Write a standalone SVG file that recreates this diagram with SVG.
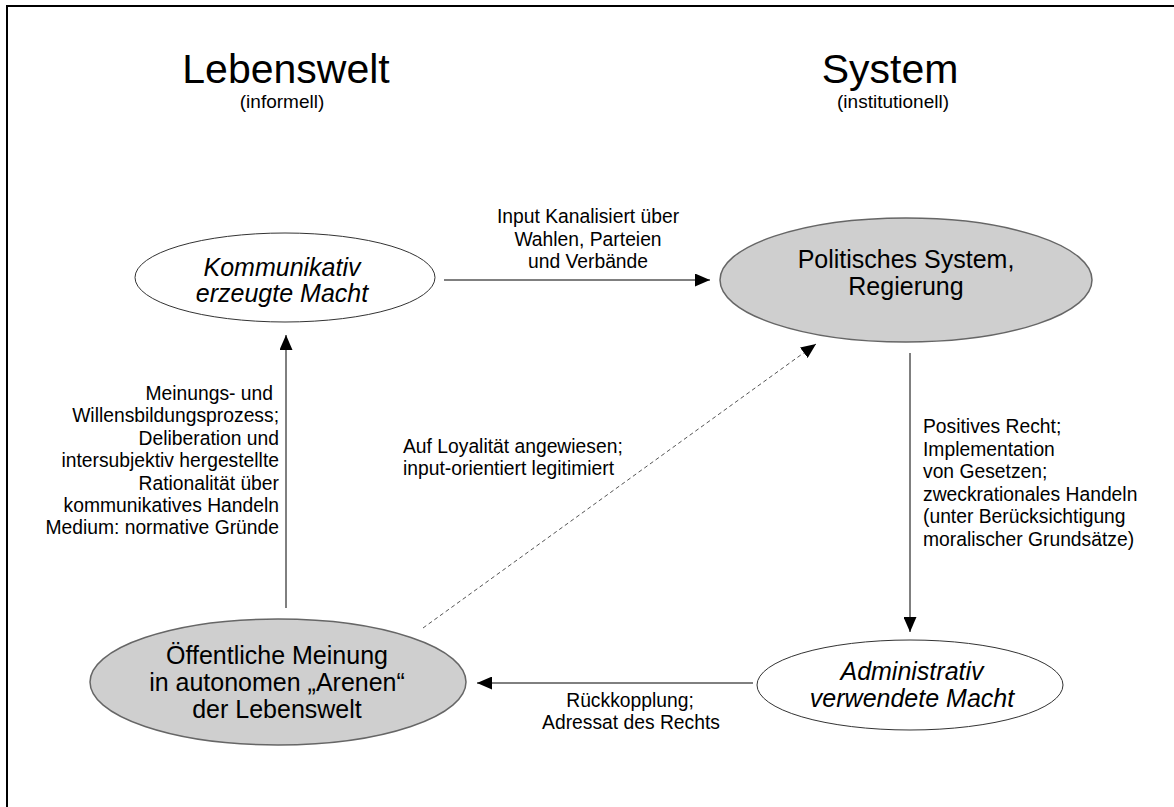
<svg xmlns="http://www.w3.org/2000/svg" width="1174" height="807" viewBox="0 0 1174 807">
<style>
text{font-family:"Liberation Sans",Arial,sans-serif;fill:#000}
.title{font-size:41px;text-anchor:middle}
.sub{font-size:19px;text-anchor:middle}
.lbl{font-size:19.3px}
.mid{text-anchor:middle}
.end{text-anchor:end}
.nt{font-size:25px;text-anchor:middle}
.it{font-style:italic}
.white{fill:#fff;stroke:#333;stroke-width:1}
.grey{fill:#cfcfcf;stroke:#666;stroke-width:1.5}
.conn{stroke:#000;stroke-width:1;fill:none}
.dash{stroke:#555;stroke-width:1;fill:none;stroke-dasharray:4 3}
</style>
<defs>
<marker id="ah" viewBox="0 0 15 13" refX="15" refY="6.5" markerWidth="15" markerHeight="13" markerUnits="userSpaceOnUse" orient="auto">
<path d="M0,0 L15,6.5 L0,13 z" fill="#000"/>
</marker>
</defs>
<rect width="1174" height="807" fill="#fff"/>
<path d="M7,807 L7,6 L1174,6" fill="none" stroke="#000" stroke-width="2"/>
<g id="titles">
<text class="title" x="286" y="83">Lebenswelt</text>
<text class="sub" x="282" y="108">(informell)</text>
<text class="title" x="890" y="83">System</text>
<text class="sub" x="893" y="108">(institutionell)</text>
</g>
<g id="connectors">
<path class="conn" d="M444,280 L710,280" marker-end="url(#ah)"/>
<path class="conn" d="M286,608 L286,335" marker-end="url(#ah)"/>
<path class="dash" d="M423,628 L816,344" marker-end="url(#ah)"/>
<path class="conn" d="M910,353 L910,632" marker-end="url(#ah)"/>
<path class="conn" d="M753,683 L477,683" marker-end="url(#ah)"/>
</g>
<g id="labels">
<text class="lbl mid" x="588" y="223">Input Kanalisiert über</text>
<text class="lbl mid" x="588" y="246">Wahlen, Parteien</text>
<text class="lbl mid" x="588" y="268">und Verbände</text>
<text class="lbl end" x="273" y="400">Meinungs- und</text>
<text class="lbl end" x="279" y="422.4">Willensbildungsprozess;</text>
<text class="lbl end" x="279" y="444.8">Deliberation und</text>
<text class="lbl end" x="279" y="467.2">intersubjektiv hergestellte</text>
<text class="lbl end" x="279" y="489.6">Rationalität über</text>
<text class="lbl end" x="279" y="512">kommunikatives Handeln</text>
<text class="lbl end" x="279" y="534.4">Medium: normative Gründe</text>
<text class="lbl" x="403" y="453">Auf Loyalität angewiesen;</text>
<text class="lbl" x="403" y="475">input-orientiert legitimiert</text>
<text class="lbl" x="923" y="433">Positives Recht;</text>
<text class="lbl" x="923" y="455.6">Implementation</text>
<text class="lbl" x="923" y="478.2">von Gesetzen;</text>
<text class="lbl" x="923" y="500.8">zweckrationales Handeln</text>
<text class="lbl" x="923" y="523.4">(unter Berücksichtigung</text>
<text class="lbl" x="923" y="546">moralischer Grundsätze)</text>
<text class="lbl mid" x="630" y="707">Rückkopplung;</text>
<text class="lbl mid" x="631" y="729">Adressat des Rechts</text>
</g>
<g id="node-kommunikativ">
<ellipse class="white" cx="285" cy="277.5" rx="150" ry="44.5"/>
<text class="nt it" x="282" y="276">Kommunikativ</text>
<text class="nt it" x="282" y="302">erzeugte Macht</text>
</g>
<g id="node-politisch">
<ellipse class="grey" cx="906" cy="280" rx="186" ry="62"/>
<text class="nt" x="906" y="268">Politisches System,</text>
<text class="nt" x="906" y="295">Regierung</text>
</g>
<g id="node-oeffentlich">
<ellipse class="grey" cx="278" cy="682" rx="188" ry="63"/>
<text class="nt" x="277" y="664">Öffentliche Meinung</text>
<text class="nt" x="277" y="691">in autonomen „Arenen“</text>
<text class="nt" x="277" y="718">der Lebenswelt</text>
</g>
<g id="node-administrativ">
<ellipse class="white" cx="910" cy="685" rx="153" ry="45"/>
<text class="nt it" x="912" y="680">Administrativ</text>
<text class="nt it" x="912" y="707">verwendete Macht</text>
</g>
</svg>
